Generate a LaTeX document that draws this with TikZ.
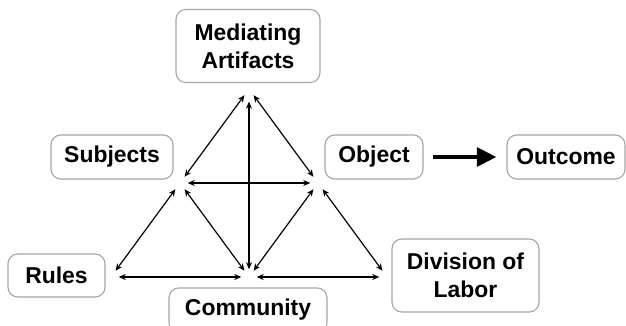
\documentclass[tikz,border=0pt]{standalone}
\usepackage{fontspec}
\setmainfont{Liberation Sans}
\usepackage{tikz}
\usetikzlibrary{arrows.meta}
\tikzset{
	box/.style={draw=gray!70, line width=0.8pt, rounded corners=7pt, inner sep=0pt,
		align=center, font=\bfseries\fontsize{16.3}{20}\selectfont},
	link/.style={<->, line width=0.85pt, shorten <=5.5pt, shorten >=5.5pt},
	flow/.style={line width=3.5pt, -{Triangle[length=14pt, width=13pt]}, shorten <=7pt, shorten >=7pt}
}

\begin{document}
\begin{tikzpicture}[x=0.025cm, y=-0.025cm, >={Stealth[length=5pt, width=4.3pt]}]
				\clip (0,0) rectangle (626,326);
				% boxes
				\node[box, minimum width=3.6cm, minimum height=1.825cm] (med) at (248,46) {Mediating\\Artifacts};
				\node[box, minimum width=3.05cm, minimum height=1.1cm] (subj) at (112,157) {Subjects};
				\node[box, minimum width=2.45cm, minimum height=1.1cm] (obj) at (374,157) {Object};
				\node[box, minimum width=2.95cm, minimum height=1.1cm] (out) at (566,157) {Outcome};
				\node[box, minimum width=2.425cm, minimum height=1.075cm] (rules) at (56.5,275.5) {Rules};
				\node[box, minimum width=3.95cm, minimum height=1.1cm] (comm) at (248,310) {Community};
				\node[box, minimum width=3.675cm, minimum height=1.825cm] (div) at (465.5,275.5) {Division of\\Labor};
				% corners of the triangles
				\coordinate (T) at (249,89);
				\coordinate (S) at (180,183);
				\coordinate (O) at (318,183);
				\coordinate (R) at (111,277);
				\coordinate (C) at (249,277);
				\coordinate (D) at (387,277);
				% upper triangle
				\draw[link] (T) -- (S);
				\draw[link] (T) -- (O);
				\draw[link] (S) -- (O);
				\draw[link, shorten <=9pt] (T) -- (C);
				% lower triangles
				\draw[link] (S) -- (R);
				\draw[link] (S) -- (C);
				\draw[link] (O) -- (C);
				\draw[link] (O) -- (D);
				\draw[link] (R) -- (C);
				\draw[link] (C) -- (D);
				% outcome
				\draw[flow] (obj) -- (out);
			\end{tikzpicture}
\end{document}
